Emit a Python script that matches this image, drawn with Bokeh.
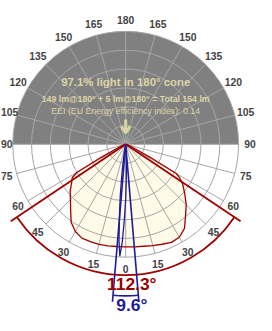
import numpy as np
from bokeh.plotting import figure
from bokeh.models import Range1d
from bokeh.embed import file_html
from bokeh.resources import INLINE
from bokeh.core.properties import value

# ---------------- data ----------------
ring_values = [20, 40, 60, 80, 100, 120]          # intensity rings (chart units)
spoke_angles = list(range(0, 360, 15))             # grid spokes (deg)
label_angles = [0, 15, 30, 45, 60, 75, 90, 105, 120, 135, 150, 165, 180]

# wide distribution (red), angle from nadir, left / right half-planes
red_angles = [0, 5, 10, 15, 20, 25, 30, 35, 40, 45, 50, 55, 58, 60, 62, 65, 70, 80, 90]
red_left = [109, 109, 109.5, 110, 110, 110, 107, 101, 91, 83, 77, 70, 67, 60, 30, 10, 4, 1, 0]
red_right = [109, 109.5, 110, 111.5, 113, 115, 114, 109, 99, 91, 82, 74, 68, 62, 30, 10, 4, 1, 0]

# narrow distribution (blue), signed angle from nadir
blue_angles = [-12, -10, -8, -7, -6, -5, -4, -3, -2, -1, 0, 1, 2, 3, 4, 6]
blue_vals = [2, 8, 22, 35, 55, 75, 102, 119, 104, 80, 58, 38, 22, 10, 4, 0]

red_beam = 112.3
blue_beam = 9.6

title_text = "97.1% light in 180° cone"
flux_text = "149 lm@180° + 5 lm@180° = Total 154 lm"
eei_text = "EEI (EU Energy efficiency index): 0.14"

# ---------------- styles ----------------
S = 256 / 272
X0, X1 = -133, 139
FONT = value("Liberation Sans")
RED = "#a00000"
BLUE = "#1c1c9c"
GRID = "#a6a6a6"
BEIGE = "#ddd4a6"
LABEL = "#444444"
R_MAX = max(ring_values)
LAB_PX = 11 * S

p = figure(width=256, height=315, x_range=Range1d(X0, X1),
           y_range=Range1d(-181.9, 152.8), output_backend="svg",
           toolbar_location=None, min_border=0)
p.axis.visible = False
p.grid.visible = False
p.outline_line_color = None
p.background_fill_color = "white"
p.border_fill_color = "white"

# upper half (gray)
p.wedge(x=0, y=0, radius=R_MAX, start_angle=0, end_angle=np.pi,
        fill_color="#808080", line_color=None)


def pol(theta_deg, r):
    t = np.radians(np.asarray(theta_deg, dtype=float))
    r = np.asarray(r, dtype=float)
    return r * np.sin(t), -r * np.cos(t)


# red curve polygon
lx, ly = pol(red_angles, red_left)
rx, ry = pol(red_angles, red_right)
cx = np.concatenate([-lx[::-1], rx[1:]])
cy = np.concatenate([ly[::-1], ry[1:]])
p.patch(cx, cy, fill_color="#fffbe8", line_color=None)

# grid
for rv in ring_values:
    p.circle(x=0, y=0, radius=rv, fill_color=None, line_color=GRID, line_width=1)
for a in spoke_angles:
    t = np.radians(a)
    p.line([0, R_MAX * np.cos(t)], [0, R_MAX * np.sin(t)], line_color=GRID, line_width=1)

# curves
p.line(cx, cy, line_color=RED, line_width=1.3)
bx, by = pol(blue_angles, blue_vals)
p.line(bx, by, line_color=BLUE, line_width=1.3)

# beam-angle markers
def beam(angle, r_arc, r_line, color, lw):
    h = angle / 2
    for sgn in (-1, 1):
        ex, ey = pol(sgn * h, r_line)
        p.line([0, float(ex)], [0, float(ey)], line_color=color, line_width=lw)
    p.arc(x=0, y=0, radius=r_arc, start_angle=-np.pi / 2 - np.radians(h),
          end_angle=-np.pi / 2 + np.radians(h), line_color=color, line_width=lw)

beam(red_beam, 139, 147, RED, 1.8)
beam(blue_beam, 161, 168, BLUE, 1.6)

# arrow
p.line([0, 0], [26.3, 13], line_color=BEIGE, line_width=3)
p.line([-4.6, 0, 4.6], [19, 12, 19], line_color=BEIGE, line_width=3)

# angle labels (kept inside the canvas)
groups = {"center": ([], [], []), "left": ([], [], []), "right": ([], [], [])}
for a in label_angles:
    sides = (1,) if a in (0, 180) else (-1, 1)
    for sgn in sides:
        x, y = pol(sgn * a, 132)
        x, y = float(x), float(y)
        t = str(a)
        half_w = len(t) * 0.556 * LAB_PX / S / 2
        if x - half_w < X0 + 0.5:
            g = groups["left"]; x = X0 + 0.5
        elif x + half_w > X1 - 0.5:
            g = groups["right"]; x = X1 - 0.5
        else:
            g = groups["center"]
        g[0].append(x); g[1].append(y); g[2].append(t)
for align, (gx, gy, gt) in groups.items():
    if gx:
        p.text(gx, gy, text=gt, text_align=align, text_baseline="middle",
               text_font=FONT, text_font_style="bold",
               text_font_size=f"{LAB_PX:.2f}px", text_color=LABEL)

# texts in the upper half
p.text([0], [66], text=[title_text], text_align="center", text_baseline="middle",
       text_font=FONT, text_font_style="bold", text_font_size=f"{12.1*S:.2f}px",
       text_color=BEIGE)
p.text([0], [48], text=[flux_text], text_align="center", text_baseline="middle",
       text_font=FONT, text_font_style="bold", text_font_size=f"{9.3*S:.2f}px",
       text_color=BEIGE)
p.text([0], [35], text=[eei_text], text_align="center", text_baseline="middle",
       text_font=FONT, text_font_size=f"{9.3*S:.2f}px", text_color=BEIGE)

# beam labels
p.text([6.5], [-148], text=[f"{red_beam}°"], text_align="center", text_baseline="middle",
       text_font=FONT, text_font_style="bold", text_font_size=f"{18.5*S:.2f}px",
       text_color="#990000")
p.text([6.5], [-171], text=[f"{blue_beam}°"], text_align="center", text_baseline="middle",
       text_font=FONT, text_font_style="bold", text_font_size=f"{18.5*S:.2f}px",
       text_color=BLUE)

open("out.html", "w").write(file_html(p, INLINE))
